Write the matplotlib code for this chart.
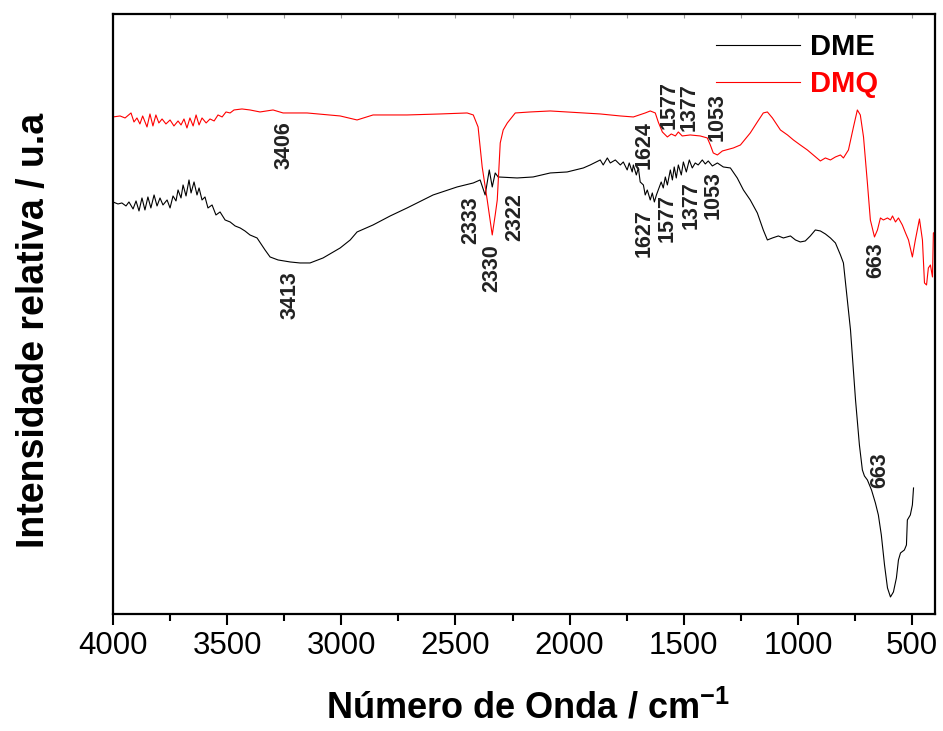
import matplotlib
matplotlib.use("Agg")
import matplotlib.pyplot as plt
from matplotlib.ticker import MultipleLocator

plt.rcParams['font.family'] = ['Liberation Sans', 'DejaVu Sans']
plt.rcParams['mathtext.fontset'] = 'custom'
plt.rcParams['mathtext.rm'] = 'Liberation Sans'
plt.rcParams['mathtext.bf'] = 'Liberation Sans:bold'

# ---- data (wavenumber cm-1, relative intensity a.u.) ----
dmq_wn = [4000, 3969, 3947, 3921, 3908, 3895, 3882, 3870, 3851, 3838, 3825, 3812, 3799, 3785,
          3768, 3750, 3733, 3715, 3702, 3689, 3676, 3663, 3649, 3636, 3623, 3610, 3592, 3575,
          3557, 3540, 3522, 3505, 3487, 3470, 3435, 3400, 3356, 3299, 3255, 3150, 3005, 2931,
          2861, 2712, 2567, 2449, 2422, 2401, 2383, 2361, 2339, 2326, 2317, 2304, 2291, 2273,
          2238, 2173, 2085, 2011, 1940, 1866, 1778, 1721, 1669, 1647, 1625, 1612, 1594, 1572,
          1555, 1537, 1524, 1507, 1472, 1428, 1397, 1384, 1371, 1353, 1331, 1283, 1252, 1209,
          1178, 1152, 1134, 1112, 1077, 1046, 1020, 990, 959, 933, 902, 880, 858, 836, 814,
          801, 779, 757, 740, 727, 713, 696, 683, 665, 652, 639, 626, 608, 595, 586, 573, 560,
          543, 529, 516, 499, 486, 468, 455, 446, 437, 429, 420, 411, 407, 398]
dmq_int = [497, 498, 496, 501, 492, 496, 490, 498, 487, 500, 488, 499, 491, 495,
           490, 494, 488, 493, 489, 495, 486, 496, 488, 499, 489, 496, 491, 495,
           493, 499, 497, 502, 501, 504, 505, 504, 502, 504, 501, 501, 498, 494,
           499, 499, 500, 501, 499, 487, 447, 414, 379, 399, 414, 471, 484, 491,
           501, 502, 503, 502, 501, 500, 498, 497, 501, 503, 501, 492, 482, 477,
           480, 478, 482, 478, 479, 478, 476, 469, 461, 459, 463, 466, 469, 481,
           492, 501, 502, 496, 484, 479, 474, 469, 464, 459, 453, 456, 454, 457, 459,
           456, 464, 487, 504, 499, 477, 431, 394, 377, 384, 396, 394, 396, 394, 398, 392, 396,
           389, 381, 374, 357, 374, 395, 374, 331, 329, 346, 349, 337, 381, 382]

dme_wn = [4000, 3978, 3961, 3943, 3930, 3912, 3899, 3886, 3873, 3860, 3847, 3834, 3820, 3807,
          3794, 3781, 3763, 3750, 3737, 3724, 3715, 3702, 3693, 3680, 3667, 3658, 3645, 3632,
          3623, 3610, 3597, 3584, 3566, 3549, 3531, 3509, 3487, 3465, 3443, 3422, 3400, 3369,
          3334, 3312, 3277, 3224, 3181, 3137, 3080, 3005, 2961, 2931, 2861, 2786, 2712, 2598,
          2493, 2422, 2392, 2370, 2352, 2339, 2326, 2313, 2230, 2160, 2085, 2011, 1940, 1910,
          1866, 1853, 1835, 1822, 1800, 1778, 1765, 1748, 1739, 1726, 1721, 1708, 1699, 1691,
          1677, 1669, 1660, 1647, 1638, 1629, 1620, 1612, 1599, 1590, 1581, 1572, 1559, 1550,
          1542, 1533, 1524, 1511, 1502, 1489, 1476, 1463, 1450, 1437, 1419, 1406, 1393, 1375,
          1353, 1327, 1296, 1266, 1239, 1209, 1178, 1152, 1134, 1112, 1086, 1064, 1033, 1011,
          990, 968, 946, 924, 902, 880, 858, 836, 814, 801, 770, 748, 731, 718, 709, 696, 678,
          661, 648, 635, 621, 608, 595, 582, 569, 560, 551, 534, 525, 521, 508, 499, 494]
dme_int = [412, 410, 411, 408, 412, 405, 413, 403, 416, 404, 417, 406, 419, 408,
           416, 409, 414, 406, 418, 413, 424, 416, 429, 418, 434, 421, 432, 419,
           426, 414, 417, 406, 409, 399, 402, 394, 392, 388, 386, 383, 379, 376,
           364, 357, 354, 352, 351, 351, 356, 366, 374, 382, 389, 398, 406, 419,
           427, 431, 434, 419, 444, 427, 441, 437, 436, 437, 441, 442, 446, 449,
           454, 449, 456, 451, 454, 449, 452, 444, 451, 442, 449, 439, 446, 432,
           429, 419, 424, 414, 421, 412, 419, 424, 432, 426, 437, 429, 444, 434,
           447, 436, 449, 439, 452, 442, 454, 446, 451, 449, 454, 450, 453, 448,
           451, 447, 446, 436, 424, 414, 401, 384, 374, 376, 378, 376, 378, 374,
           372, 373, 378, 384, 383, 380, 376, 371, 359, 351, 284, 214, 169, 144, 138, 134, 124,
           111, 99, 79, 49, 26, 17, 22, 36, 54, 61, 64, 69, 94, 99, 109, 126]

series_labels = ['DME', 'DMQ']
series_colors = ['black', 'red']

peak_labels = ['3406', '3413', '2333', '2330', '2322', '1624', '1627', '1577', '1377', '1053',
               '1577', '1377', '1053', '663', '663']
peak_x = [3250, 3225, 2435, 2340, 2240, 1675, 1675, 1575, 1470, 1370, 1565, 1475, 1355, 660, 640]
peak_y = [469, 319, 394, 346, 397, 469, 381, 396, 409, 419, 509, 507, 497, 354, 144]

# ---- figure ----
fig = plt.figure(figsize=(9.43, 7.31), dpi=100)
ax = fig.add_axes([0.1198, 0.1601, 0.8717, 0.8208])

ax.plot(dme_wn, dme_int, color=series_colors[0], lw=0.8, label=series_labels[0])
ax.plot(dmq_wn, dmq_int, color=series_colors[1], lw=0.8, label=series_labels[1])

ax.set_xlim(4000, 400)
ax.set_ylim(0, 600)
ax.set_yticks([])
ax.xaxis.set_major_locator(MultipleLocator(500))
ax.xaxis.set_minor_locator(MultipleLocator(250))
ax.tick_params(axis='x', which='major', direction='out', length=8, width=1.5, labelsize=22.5, pad=4)
ax.tick_params(axis='x', which='minor', direction='out', length=5, width=1.5)
for s in ax.spines.values():
    s.set_linewidth(1.6)

top = ax.secondary_xaxis('top')
top.xaxis.set_major_locator(MultipleLocator(250))
top.tick_params(direction='in', length=3, width=0.8, color='#999999', labeltop=False)
top.spines['top'].set_visible(False)

for lab, x, y in zip(peak_labels, peak_x, peak_y):
    ax.text(x, y, lab, rotation=90, ha='center', va='center', fontsize=15.5,
            fontweight='bold', color='#222222')

ax.set_xlabel(r'Número de Onda / cm$^{\mathbf{-1}}$', fontsize=26, fontweight='bold')
ax.xaxis.set_label_coords(0.505, -0.128)
ax.set_ylabel('Intensidade relativa / u.a', fontsize=27, fontweight='bold')
ax.yaxis.set_label_coords(-0.074, 0.472)

leg = ax.legend(loc='upper left', bbox_to_anchor=(0.733, 0.968), frameon=False,
                fontsize=21, handlelength=2.9, handletextpad=0.35, labelspacing=0.3,
                borderaxespad=0, borderpad=0)
for txt, c in zip(leg.get_texts(), series_colors):
    txt.set_color(c)
    txt.set_fontweight('bold')

fig.savefig('out.png', dpi=100)
